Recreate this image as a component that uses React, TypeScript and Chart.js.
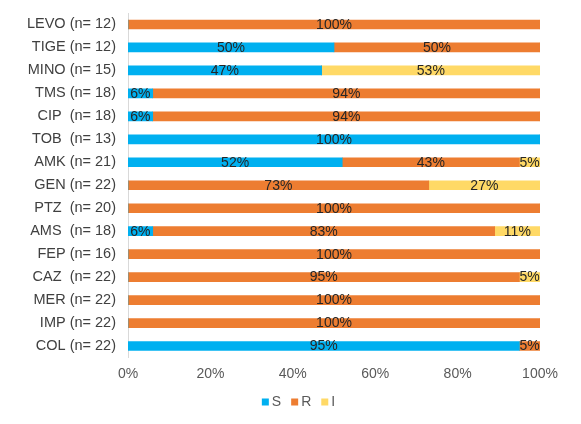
import React, { useEffect, useRef } from "react";
import { Chart, registerables } from "chart.js";

Chart.register(...registerables);

const categories = [
  "LEVO (n= 12)",
  "TIGE (n= 12)",
  "MINO (n= 15)",
  "TMS (n= 18)",
  "CIP  (n= 18)",
  "TOB  (n= 13)",
  "AMK (n= 21)",
  "GEN (n= 22)",
  "PTZ  (n= 20)",
  "AMS  (n= 18)",
  "FEP (n= 16)",
  "CAZ  (n= 22)",
  "MER (n= 22)",
  "IMP (n= 22)",
  "COL (n= 22)",
];

const seriesS = [0, 50, 47, 6, 6, 100, 52, 0, 0, 6, 0, 0, 0, 0, 95];
const seriesR = [100, 50, 0, 94, 94, 0, 43, 73, 100, 83, 100, 95, 100, 100, 5];
const seriesI = [0, 0, 53, 0, 0, 0, 5, 27, 0, 11, 0, 5, 0, 0, 0];

const xTicks = [0, 20, 40, 60, 80, 100];

const FONT = "'Liberation Sans', Arial, sans-serif";

const labelPlugin = {
  id: "barLabels",
  afterDatasetsDraw(chart: any) {
    const ctx = chart.ctx;
    ctx.save();
    ctx.font = `14px ${FONT}`;
    ctx.fillStyle = "#262626";
    ctx.textAlign = "center";
    ctx.textBaseline = "middle";
    chart.data.datasets.forEach((ds: any, di: number) => {
      const meta = chart.getDatasetMeta(di);
      meta.data.forEach((el: any, i: number) => {
        const v = ds.data[i];
        if (!v) return;
        const cx = (el.x + el.base) / 2;
        ctx.fillText(`${v}%`, cx, el.y + 0.5);
      });
    });
    ctx.restore();
  },
};

const legendPlugin = {
  id: "compactLegend",
  afterDraw(chart: any) {
    const ctx = chart.ctx;
    ctx.save();
    ctx.font = `14px ${FONT}`;
    ctx.textBaseline = "middle";
    ctx.textAlign = "left";
    const box = 7;
    const gap = 3;
    const spacing = 10;
    const items = chart.data.datasets.map((ds: any) => ({
      label: ds.label,
      color: ds.backgroundColor,
      w: ctx.measureText(ds.label).width,
    }));
    const total =
      items.reduce((a: number, it: any) => a + box + gap + it.w, 0) +
      spacing * (items.length - 1);
    const cx = chart.width / 2 + 8;
    const cy = chart.chartArea.bottom + 44.5;
    let x = cx - total / 2;
    items.forEach((it: any) => {
      ctx.fillStyle = it.color;
      ctx.fillRect(x, cy - box / 2, box, box);
      x += box + gap;
      ctx.fillStyle = "#595959";
      ctx.fillText(it.label, x, cy + 0.5);
      x += it.w + spacing;
    });
    ctx.restore();
  },
};

export default function App() {
  const ref = useRef<HTMLCanvasElement | null>(null);

  useEffect(() => {
    document.body.style.margin = "0";
    if (!ref.current) return;
    const chart = new Chart(ref.current, {
      type: "bar",
      data: {
        labels: categories,
        datasets: [
          { label: "S", data: seriesS, backgroundColor: "#00B0F0" },
          { label: "R", data: seriesR, backgroundColor: "#ED7D31" },
          { label: "I", data: seriesI, backgroundColor: "#FFD966" },
        ],
      },
      options: {
        indexAxis: "y",
        animation: false,
        responsive: true,
        maintainAspectRatio: false,
        layout: { padding: { top: 13, right: 41, left: 0, bottom: 39 } },
        datasets: {
          bar: { barThickness: 9, borderWidth: 0 },
        },
        scales: {
          x: {
            stacked: true,
            min: 0,
            max: 100,
            afterBuildTicks: (s: any) => {
              s.ticks = xTicks.map((v) => ({ value: v }));
            },
            afterFit: (s: any) => {
              s.height = 27.5;
            },
            grid: { display: false, drawTicks: false },
            border: { display: false },
            ticks: {
              padding: 8,
              color: "#595959",
              font: { family: FONT, size: 14 },
              callback: (v: any) => `${v}%`,
            },
          },
          y: {
            stacked: true,
            afterFit: (s: any) => {
              s.width = 128;
              s.paddingTop = 0;
              s.paddingBottom = 0;
            },
            grid: { display: false, drawTicks: false },
            border: { display: true, color: "#D9D9D9", width: 1 },
            ticks: {
              padding: 12,
              color: "#404040",
              font: { family: FONT, size: 14.5 },
              autoSkip: false,
            },
          },
        },
        plugins: {
          tooltip: { enabled: false },
          legend: { display: false },
        },
      },
      plugins: [labelPlugin, legendPlugin],
    });
    return () => chart.destroy();
  }, []);

  return (
    <div style={{ width: 581, height: 424, position: "relative" }}>
      <canvas ref={ref} />
    </div>
  );
}
